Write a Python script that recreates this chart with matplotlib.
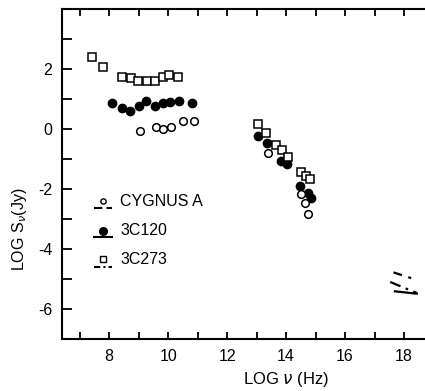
#!/usr/bin/env python3

import matplotlib
matplotlib.use('Agg')
import matplotlib.pyplot as plt
from matplotlib.ticker import MultipleLocator, FixedLocator

plt.rcParams['font.family'] = ['Liberation Sans', 'DejaVu Sans']
plt.rcParams['axes.unicode_minus'] = False

# 3C273 (open squares)
nu_3c273 = [7.43, 7.79, 8.43, 8.74, 8.99, 9.28, 9.54, 9.83, 10.03, 10.34,
            13.03, 13.32, 13.64, 13.86, 14.06, 14.49, 14.68, 14.82]
s_3c273 = [2.40, 2.07, 1.74, 1.69, 1.61, 1.61, 1.61, 1.73, 1.81, 1.74,
           0.16, -0.14, -0.52, -0.69, -0.93, -1.44, -1.57, -1.66]

# 3C120 (filled circles)
nu_3c120 = [8.09, 8.43, 8.72, 9.00, 9.26, 9.55, 9.84, 10.06, 10.37, 10.80,
            13.05, 13.35, 13.82, 14.04, 14.47, 14.75, 14.85]
s_3c120 = [0.86, 0.69, 0.60, 0.78, 0.93, 0.78, 0.87, 0.91, 0.92, 0.87,
           -0.24, -0.48, -1.07, -1.16, -1.91, -2.12, -2.29]

# Cygnus A (open circles)
nu_cyg = [9.05, 9.58, 9.83, 10.11, 10.50, 10.89, 13.37, 14.50, 14.65, 14.75]
s_cyg = [-0.07, 0.06, 0.00, 0.06, 0.28, 0.28, -0.79, -2.18, -2.46, -2.82]

# X-ray spectra (end points of the short lines)
xr_cyg_nu = [17.64, 18.24]
xr_cyg_s = [-4.78, -4.97]
xr_3c120_nu = [17.69, 18.43]
xr_3c120_s = [-5.41, -5.49]
xr_3c273_nu = [17.53, 18.44]
xr_3c273_s = [-5.10, -5.47]

names = ['CYGNUS A', '3C120', '3C273']
y_labelled = [-6, -4, -2, 0, 2]

fig = plt.figure(figsize=(4.25, 3.91), dpi=100)
ax = fig.add_axes([0.146, 0.133, 0.854, 0.844])

ax.plot(nu_3c120, s_3c120, 'o', ms=6, color='black', zorder=2)
ax.plot(nu_cyg, s_cyg, 'o', ms=5.5, mfc='white', mec='black', mew=1.1, zorder=3)
ax.plot(nu_3c273, s_3c273, 's', ms=5.2, mfc='white', mec='black', mew=1.1, zorder=4)

ax.plot(xr_cyg_nu, xr_cyg_s, color='black', lw=1.6, dashes=(4, 3))
ax.plot(xr_3c120_nu, xr_3c120_s, color='black', lw=1.6)
ax.plot(xr_3c273_nu, xr_3c273_s, color='black', lw=1.6, dashes=(5, 2.5, 1.2, 2.5))

# hand drawn legend
leg_y = [0.418, 0.328, 0.242]
line_y = [0.398, 0.309, 0.218]
leg_styles = [dict(marker='o', ms=3.8, mfc='white', mec='black', mew=1.0),
              dict(marker='o', ms=5.5, mfc='black', mec='black'),
              dict(marker='s', ms=3.8, mfc='white', mec='black', mew=1.0)]
leg_dashes = [(4, 2), None, (3, 1.5, 1, 1.5)]
for i in range(3):
    ax.plot([0.113], [leg_y[i]], transform=ax.transAxes, color='black',
            clip_on=False, **leg_styles[i])
    if leg_dashes[i] is None:
        ax.plot([0.088, 0.138], [line_y[i]] * 2, transform=ax.transAxes,
                color='black', lw=1.5)
    else:
        ax.plot([0.088, 0.138], [line_y[i]] * 2, transform=ax.transAxes,
                color='black', lw=1.5, dashes=leg_dashes[i])
    ax.text(0.160, leg_y[i], names[i], transform=ax.transAxes,
            fontsize=11.5, va='center', ha='left')

ax.set_xlim(6.4, 18.71)
ax.set_ylim(-7, 4)
ax.xaxis.set_major_locator(MultipleLocator(2))
ax.xaxis.set_minor_locator(MultipleLocator(1))
ax.yaxis.set_major_locator(FixedLocator(y_labelled))
ax.yaxis.set_minor_locator(MultipleLocator(1))

ax.spines['right'].set_visible(False)
for s in ['left', 'top', 'bottom']:
    ax.spines[s].set_linewidth(1.5)

ax.tick_params(axis='y', which='both', direction='in', length=7, width=1.3,
               labelsize=11.5, pad=7)
ax.tick_params(axis='x', which='both', direction='in', length=5, width=1.3,
               labelsize=11.5, pad=7, top=True)
ax.tick_params(axis='x', which='major', labeltop=False)

ax.set_xlabel('LOG $\\nu$ (Hz)', fontsize=12, va='center')
ax.set_ylabel('LOG S$_\\nu$(Jy)', fontsize=11.5, va='center')
ax.xaxis.set_label_coords(0.617, -0.124)
ax.yaxis.set_label_coords(-0.116, 0.333)

plt.savefig('out.png', dpi=100)
